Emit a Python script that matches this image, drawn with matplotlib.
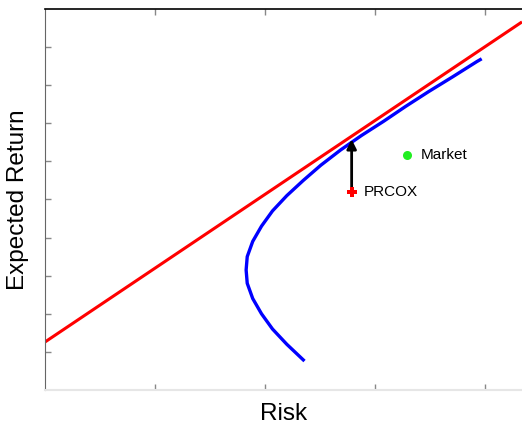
import matplotlib
matplotlib.use('Agg')
import matplotlib.pyplot as plt

plt.rcParams['font.family'] = ['Liberation Sans', 'DejaVu Sans']

# efficient frontier
risk = [2.35, 2.20, 2.07, 1.97, 1.89, 1.84, 1.83, 1.84, 1.89, 1.97, 2.07, 2.20,
        2.35, 2.51, 2.69, 2.88, 3.08, 3.28, 3.49, 3.71, 3.93, 3.96]
ret = [0.79, 1.20, 1.60, 2.00, 2.40, 2.80, 3.15, 3.50, 3.90, 4.30, 4.70, 5.10,
       5.50, 5.90, 6.30, 6.68, 7.05, 7.44, 7.83, 8.22, 8.62, 8.67]

# capital market line
cml_x = [0.0, 4.34]
cml_y = [1.26, 9.66]

prcox = (2.79, 5.20)
prcox_up = 6.58
market = (3.29, 6.17)

fig = plt.figure(figsize=(5.22, 4.26), dpi=100)
ax = fig.add_axes([0.0862, 0.0845, 0.9138, 0.8945])

ax.plot(cml_x, cml_y, color='#ff0000', lw=2.2, solid_capstyle='butt')
ax.plot(risk, ret, color='#0000ff', lw=2.4)

ax.annotate('', xy=(prcox[0], prcox_up), xytext=prcox,
            arrowprops=dict(arrowstyle='-|>', color='black', lw=2,
                            mutation_scale=14, shrinkA=0, shrinkB=0))
ax.plot(prcox[0], prcox[1], marker='P', color='#ff0000', ms=7, mew=0, zorder=5)
ax.text(prcox[0] + 0.11, prcox[1], 'PRCOX', fontsize=11, va='center')
ax.plot(market[0], market[1], 'o', color='#22ee22', ms=6.5, mew=0, zorder=5)
ax.text(market[0] + 0.13, market[1], 'Market', fontsize=11, va='center')

ax.set_xlim(0, 4.34)
ax.set_ylim(0, 10)
ax.set_xticks([1, 2, 3, 4])
ax.set_yticks(range(1, 10))
ax.set_xticklabels([])
ax.set_yticklabels([])
ax.tick_params(axis='both', direction='in', length=4, width=1, colors='#888888',
               top=True, right=False)

ax.spines['right'].set_visible(False)
ax.spines['top'].set_color('black')
ax.spines['top'].set_linewidth(1.2)
ax.spines['left'].set_color('#666666')
ax.spines['bottom'].set_color('#e6e6e6')
ax.spines['bottom'].set_linewidth(1.5)

ax.set_xlabel('Risk', fontsize=17.5, labelpad=6)
ax.set_ylabel('Expected Return', fontsize=17.5, labelpad=8)

fig.savefig('out.png', dpi=100)
